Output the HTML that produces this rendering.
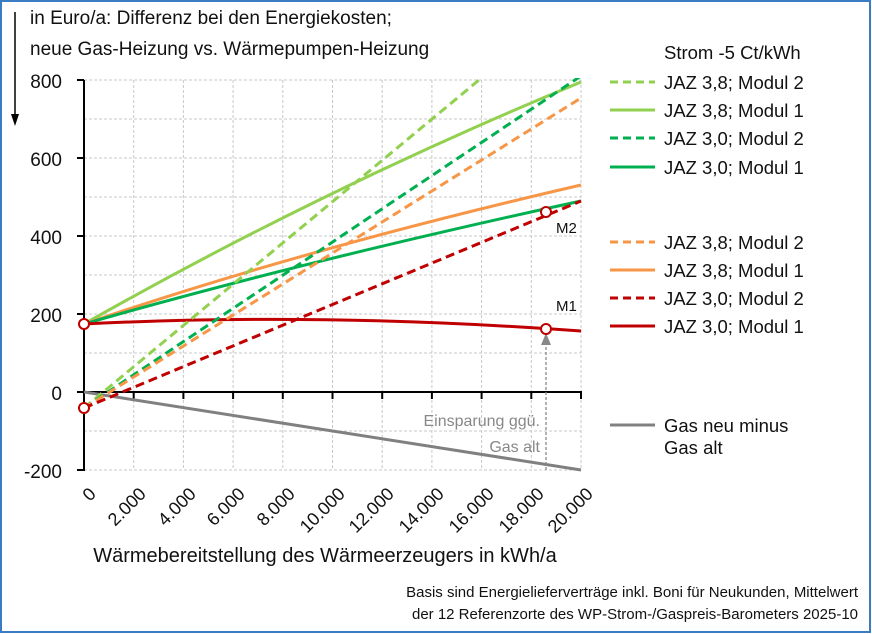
<!DOCTYPE html>
<html><head><meta charset="utf-8"><style>
html,body{margin:0;padding:0;background:#fff}
svg{display:block}
text{font-family:"Liberation Sans",sans-serif;fill:#111}
</style></head><body>
<svg width="872" height="634" viewBox="0 0 872 634">
<rect x="1" y="1" width="869" height="631" fill="#fff" stroke="#3a7cc4" stroke-width="2"/>
<g stroke="#c8c8c8" stroke-width="1" stroke-dasharray="3,2">
<line x1="84" y1="119" x2="581" y2="119"/><line x1="84" y1="158" x2="581" y2="158"/>
<line x1="84" y1="197" x2="581" y2="197"/><line x1="84" y1="236" x2="581" y2="236"/>
<line x1="84" y1="275" x2="581" y2="275"/><line x1="84" y1="314" x2="581" y2="314"/>
<line x1="84" y1="353" x2="581" y2="353"/><line x1="84" y1="431" x2="581" y2="431"/>
<line x1="84" y1="80" x2="581" y2="80"/><line x1="84" y1="470" x2="581" y2="470"/>
<line x1="133.7" y1="80" x2="133.7" y2="470"/><line x1="183.4" y1="80" x2="183.4" y2="470"/>
<line x1="233.1" y1="80" x2="233.1" y2="470"/><line x1="282.8" y1="80" x2="282.8" y2="470"/>
<line x1="332.5" y1="80" x2="332.5" y2="470"/><line x1="382.2" y1="80" x2="382.2" y2="470"/>
<line x1="431.9" y1="80" x2="431.9" y2="470"/><line x1="481.6" y1="80" x2="481.6" y2="470"/>
<line x1="531.3" y1="80" x2="531.3" y2="470"/><line x1="581" y1="80" x2="581" y2="470"/>
</g>
<g stroke="#000" stroke-width="2">
<line x1="84" y1="80" x2="84" y2="471"/>
<line x1="84" y1="392" x2="582" y2="392"/>
<line x1="77" y1="80" x2="84" y2="80"/><line x1="77" y1="158" x2="84" y2="158"/>
<line x1="77" y1="236" x2="84" y2="236"/><line x1="77" y1="314" x2="84" y2="314"/>
<line x1="77" y1="392" x2="84" y2="392"/><line x1="77" y1="470" x2="84" y2="470"/>
<line x1="133.7" y1="392" x2="133.7" y2="399"/><line x1="183.4" y1="392" x2="183.4" y2="399"/>
<line x1="233.1" y1="392" x2="233.1" y2="399"/><line x1="282.8" y1="392" x2="282.8" y2="399"/>
<line x1="332.5" y1="392" x2="332.5" y2="399"/><line x1="382.2" y1="392" x2="382.2" y2="399"/>
<line x1="431.9" y1="392" x2="431.9" y2="399"/><line x1="481.6" y1="392" x2="481.6" y2="399"/>
<line x1="531.3" y1="392" x2="531.3" y2="399"/><line x1="581" y1="392" x2="581" y2="399"/>
</g>
<g font-size="19" text-anchor="end">
<text x="62" y="88">800</text><text x="62" y="166">600</text><text x="62" y="244">400</text>
<text x="62" y="322">200</text><text x="62" y="400">0</text><text x="62" y="478">-200</text>
</g>
<g font-size="18" text-anchor="end">
<text transform="translate(97,495) rotate(-45)">0</text>
<text transform="translate(147,495) rotate(-45)">2.000</text>
<text transform="translate(197,495) rotate(-45)">4.000</text>
<text transform="translate(246,495) rotate(-45)">6.000</text>
<text transform="translate(296,495) rotate(-45)">8.000</text>
<text transform="translate(346,495) rotate(-45)">10.000</text>
<text transform="translate(395,495) rotate(-45)">12.000</text>
<text transform="translate(445,495) rotate(-45)">14.000</text>
<text transform="translate(495,495) rotate(-45)">16.000</text>
<text transform="translate(545,495) rotate(-45)">18.000</text>
<text transform="translate(594,495) rotate(-45)">20.000</text>
</g>
<clipPath id="c"><rect x="84" y="78" width="500" height="400"/></clipPath>
<g clip-path="url(#c)" fill="none" stroke-width="3">
<path d="M84,392 L581,470" stroke="#808080"/>
<path d="M84,324 Q320,190 581,82" stroke="#92d050"/>
<path d="M84,324 Q300,250 581,185" stroke="#f79646"/>
<path d="M84,324 Q300,262 581,201" stroke="#00b050"/>
<path d="M84,324 Q320,312 581,331" stroke="#c00000"/>
<g stroke-dasharray="9,5">
<path d="M84,408 L479,80" stroke="#92d050"/>
<path d="M84,408 L581,76" stroke="#00b050"/>
<path d="M84,408 L581,98" stroke="#f79646"/>
<path d="M84,408 L581,201" stroke="#c00000"/>
</g>
</g>
<line x1="546" y1="470" x2="546" y2="345" stroke="#888" stroke-width="1.3" stroke-dasharray="3,2"/>
<polygon points="541,345 551,345 546,333" fill="#888"/>
<g fill="#fff" stroke="#c00000" stroke-width="2">
<circle cx="84" cy="324" r="5"/><circle cx="84" cy="408" r="5"/>
<circle cx="546" cy="329" r="5"/><circle cx="546" cy="212" r="5"/>
</g>
<text x="556" y="233" font-size="15">M2</text>
<text x="556" y="311" font-size="15">M1</text>
<text x="540" y="426" font-size="16" style="fill:#888" text-anchor="end">Einsparung ggü.</text>
<text x="540" y="452" font-size="16" style="fill:#888" text-anchor="end">Gas alt</text>
<line x1="15" y1="12" x2="15" y2="118" stroke="#000" stroke-width="1.5"/>
<polygon points="11,114 19,114 15,126" fill="#000"/>
<text x="30" y="24" font-size="19">in Euro/a: Differenz bei den Energiekosten;</text>
<text x="30" y="55" font-size="19">neue Gas-Heizung vs. Wärmepumpen-Heizung</text>
<g font-size="18.5">
<text x="664" y="59">Strom -5 Ct/kWh</text>
<text x="664" y="89">JAZ 3,8; Modul 2</text>
<text x="664" y="117">JAZ 3,8; Modul 1</text>
<text x="664" y="145">JAZ 3,0; Modul 2</text>
<text x="664" y="174">JAZ 3,0; Modul 1</text>
<text x="664" y="249">JAZ 3,8; Modul 2</text>
<text x="664" y="277">JAZ 3,8; Modul 1</text>
<text x="664" y="305">JAZ 3,0; Modul 2</text>
<text x="664" y="333">JAZ 3,0; Modul 1</text>
<text x="664" y="432">Gas neu minus</text>
<text x="664" y="454">Gas alt</text>
</g>
<g stroke-width="3">
<line x1="610" y1="82" x2="655" y2="82" stroke="#92d050" stroke-dasharray="8,5"/>
<line x1="610" y1="110" x2="655" y2="110" stroke="#92d050"/>
<line x1="610" y1="138" x2="655" y2="138" stroke="#00b050" stroke-dasharray="8,5"/>
<line x1="610" y1="167" x2="655" y2="167" stroke="#00b050"/>
<line x1="610" y1="242" x2="655" y2="242" stroke="#f79646" stroke-dasharray="8,5"/>
<line x1="610" y1="270" x2="655" y2="270" stroke="#f79646"/>
<line x1="610" y1="298" x2="655" y2="298" stroke="#c00000" stroke-dasharray="8,5"/>
<line x1="610" y1="326" x2="655" y2="326" stroke="#c00000"/>
<line x1="610" y1="425" x2="655" y2="425" stroke="#808080"/>
</g>
<text x="325" y="562" font-size="20" text-anchor="middle">Wärmebereitstellung des Wärmeerzeugers in kWh/a</text>
<text x="858" y="597" font-size="15" text-anchor="end">Basis sind Energielieferverträge inkl. Boni für Neukunden, Mittelwert</text>
<text x="858" y="619" font-size="15" text-anchor="end">der 12 Referenzorte des WP-Strom-/Gaspreis-Barometers 2025-10</text>
</svg>
</body></html>
